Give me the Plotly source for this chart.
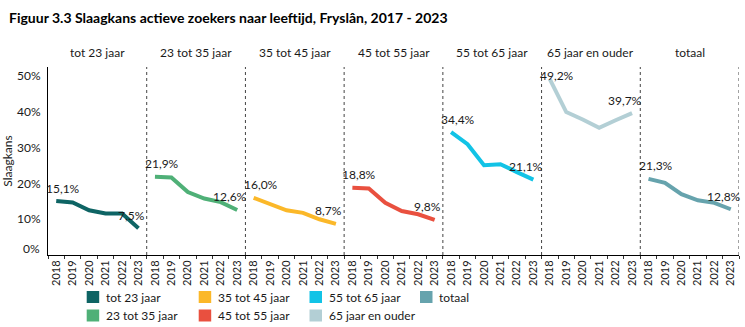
import plotly.graph_objects as go

# ---------------- data ----------------
YEARS = ["2018", "2019", "2020", "2021", "2022", "2023"]
GROUPS = ["tot 23 jaar", "23 tot 35 jaar", "35 tot 45 jaar", "45 tot 55 jaar",
          "55 tot 65 jaar", "65 jaar en ouder", "totaal"]
tot_23 = [0.151, 0.147, 0.125, 0.116, 0.116, 0.075]
van_23_tot_35 = [0.219, 0.217, 0.176, 0.158, 0.148, 0.126]
van_35_tot_45 = [0.160, 0.142, 0.125, 0.118, 0.100, 0.087]
van_45_tot_55 = [0.188, 0.186, 0.146, 0.123, 0.114, 0.098]
van_55_tot_65 = [0.344, 0.310, 0.251, 0.254, 0.232, 0.211]
ouder_65 = [0.492, 0.400, 0.379, 0.356, 0.377, 0.397]
totaal = [0.213, 0.202, 0.170, 0.153, 0.146, 0.128]
SERIES = [tot_23, van_23_tot_35, van_35_tot_45, van_45_tot_55, van_55_tot_65, ouder_65, totaal]
Y_TICKS = [0.0, 0.1, 0.2, 0.3, 0.4, 0.5]
Y_TICK_LABELS = ["0%", "10%", "20%", "30%", "40%", "50%"]

COLORS = ["#0e6464", "#4fb077", "#fbb829", "#e9503f", "#12c3e6", "#b3cfd5", "#66a3ad"]

FONT = "Lato"
TXT = "#1a1a1a"

# plot area in pixels
L, R, T, B = 48, 739, 67, 255
W, H = 745, 327
YMAX = 0.526


def px2x(px):
    return (px - L) / (R - L)


def py2y(py):
    return (B - py) / (B - T)


fig = go.Figure()

n = len(YEARS)
xvals = []
xtext = []
for g in range(len(GROUPS)):
    for i, yr in enumerate(YEARS):
        xvals.append(g * n + i)
        xtext.append(yr)

annotations = []
for g, (name, vals, col) in enumerate(zip(GROUPS, SERIES, COLORS)):
    xs = [g * n + i for i in range(n)]
    fig.add_trace(go.Scatter(x=xs, y=vals, mode="lines", name=name,
                             line=dict(color=col, width=4), showlegend=False,
                             hoverinfo="skip"))
    # data labels first & last
    for idx, xsh in ((0, 7), (n - 1, -7)):
        v = vals[idx]
        ppx = T + (YMAX - v) / YMAX * (B - T)
        ysh = min(13, ppx - 75.5)
        annotations.append(dict(x=xs[idx], y=v, xref="x", yref="y",
                                text=f"{v * 100:.1f}".replace(".", ",") + "%",
                                showarrow=False, xshift=xsh, yshift=ysh,
                                xanchor="center", yanchor="middle",
                                font=dict(family=FONT, size=12, color=TXT)))
    # panel title
    annotations.append(dict(x=g * n + (n - 1) / 2, y=py2y(52), xref="x", yref="paper",
                            text=name, showarrow=False, xanchor="center", yanchor="middle",
                            font=dict(family=FONT, size=12, color=TXT)))

shapes = []
for g in range(1, len(GROUPS) + 1):
    shapes.append(dict(type="line", xref="x", yref="paper", x0=g * n - 0.5, x1=g * n - 0.5,
                       y0=0, y1=1, line=dict(color="#444444", width=1, dash="dot")))

# 0% tick label (sits slightly above the axis line)
annotations.append(dict(x=0, y=Y_TICKS[0], xref="paper", yref="y", text=Y_TICK_LABELS[0],
                        showarrow=False, xanchor="right", yanchor="middle", xshift=-6, yshift=7,
                        font=dict(family=FONT, size=12, color=TXT)))

# title
annotations.append(dict(x=px2x(7), y=py2y(17), xref="paper", yref="paper",
                        text="<b>Figuur 3.3 Slaagkans actieve zoekers naar leeftijd, Fryslân, 2017 - 2023</b>",
                        showarrow=False, xanchor="left", yanchor="middle",
                        font=dict(family=FONT, size=14, color="#000000")))

# legend (column-major, two rows)
leg_cols = [86.7, 198.7, 309.5, 420.0]
leg_rows = [297.0, 315.5]
for k, (name, col) in enumerate(zip(GROUPS, COLORS)):
    c, r = k // 2, k % 2
    x0 = leg_cols[c]
    yc = leg_rows[r]
    shapes.append(dict(type="rect", xref="paper", yref="paper",
                       x0=px2x(x0), x1=px2x(x0 + 12.5), y0=py2y(yc + 6), y1=py2y(yc - 6),
                       fillcolor=col, line=dict(width=0)))
    annotations.append(dict(x=px2x(x0 + 17.5), y=py2y(yc), xref="paper", yref="paper",
                            text=name, showarrow=False, xanchor="left", yanchor="middle",
                            font=dict(family=FONT, size=12, color=TXT)))

fig.update_layout(
    width=W, height=H,
    margin=dict(l=L, r=W - R, t=T, b=H - B),
    paper_bgcolor="white", plot_bgcolor="white",
    showlegend=False,
    shapes=shapes, annotations=annotations,
    font=dict(family=FONT, size=12, color=TXT),
    xaxis=dict(range=[-0.5, len(GROUPS) * n - 0.5], tickmode="array", tickvals=xvals,
               ticktext=xtext, tickangle=-90, ticks="", showgrid=False, zeroline=False,
               showline=True, linecolor="#000000", linewidth=1,
               tickfont=dict(family=FONT, size=11, color=TXT),
               minor=dict(tick0=-0.5, dtick=1, ticks="outside", ticklen=3,
                          tickcolor="#333333", showgrid=False)),
    yaxis=dict(range=[0, YMAX], tickmode="array", tickvals=Y_TICKS[1:], ticktext=Y_TICK_LABELS[1:],
               ticks="", showgrid=False, zeroline=False, showline=True, linecolor="#000000",
               linewidth=1, ticklabelstandoff=4,
               tickfont=dict(family=FONT, size=12, color=TXT),
               title=dict(text="Slaagkans", standoff=4, font=dict(family=FONT, size=12, color=TXT))),
)

fig.write_html("out.html")
